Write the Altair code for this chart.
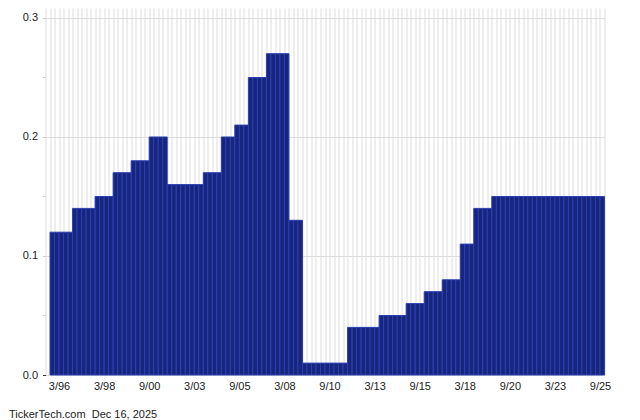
import altair as alt
import pandas as pd

# Dividend per bar (left to right)
values = [
    0.12, 0.12, 0.12, 0.12, 0.12,
    0.14, 0.14, 0.14, 0.14, 0.14,
    0.15, 0.15, 0.15, 0.15,
    0.17, 0.17, 0.17, 0.17,
    0.18, 0.18, 0.18, 0.18,
    0.20, 0.20, 0.20, 0.20,
    0.16, 0.16, 0.16, 0.16, 0.16, 0.16, 0.16, 0.16,
    0.17, 0.17, 0.17, 0.17,
    0.20, 0.20, 0.20,
    0.21, 0.21, 0.21,
    0.25, 0.25, 0.25, 0.25,
    0.27, 0.27, 0.27, 0.27, 0.27,
    0.13, 0.13, 0.13,
    0.01, 0.01, 0.01, 0.01, 0.01, 0.01, 0.01, 0.01, 0.01, 0.01,
    0.04, 0.04, 0.04, 0.04, 0.04, 0.04, 0.04,
    0.05, 0.05, 0.05, 0.05, 0.05, 0.05,
    0.06, 0.06, 0.06, 0.06,
    0.07, 0.07, 0.07, 0.07,
    0.08, 0.08, 0.08, 0.08,
    0.11, 0.11, 0.11,
    0.14, 0.14, 0.14, 0.14,
    0.15, 0.15, 0.15, 0.15, 0.15, 0.15, 0.15, 0.15, 0.15, 0.15,
    0.15, 0.15, 0.15, 0.15, 0.15, 0.15, 0.15, 0.15, 0.15, 0.15,
    0.15, 0.15, 0.15, 0.15, 0.15,
]

tick_labels = ["3/96", "3/98", "9/00", "3/03", "9/05", "3/08", "9/10",
               "3/13", "9/15", "3/18", "9/20", "3/23", "9/25"]
tick_bars = [2, 12, 22, 32, 42, 52, 62, 72, 82, 92, 102, 112, 122]

footer = "TickerTech.com\u00a0 Dec 16, 2025"

n = len(values)
df = pd.DataFrame({"i": list(range(n)), "v": values})

label_js = "[" + ",".join(f"'{t}'" for t in tick_labels) + "]"
bars_js = "[" + ",".join(str(b) for b in tick_bars) + "]"

x_axis = alt.Axis(
    values=list(range(-1, n + 1)),
    grid=True,
    gridColor="#dddddd",
    gridWidth=1,
    ticks=False,
    domain=False,
    labelExpr=f"indexof({bars_js}, datum.value) >= 0 ? {label_js}[indexof({bars_js}, datum.value)] : ''",
    labelOverlap=False,
    labelFont="Liberation Sans",
    labelFontSize=11,
    labelColor="#222222",
    labelPadding=5,
    title=None,
)

y_axis = alt.Axis(
    values=[0, 0.05, 0.1, 0.15, 0.2, 0.25, 0.3],
    grid=True,
    gridColor="#dddddd",
    gridOpacity={"condition": {"test": "round(datum.value*100) % 10 == 0", "value": 1}, "value": 0},
    tickColor={"condition": {"test": "datum.value == 0", "value": "#333333"}, "value": "#cccccc"},
    tickSize=3,
    domain=False,
    labelExpr="round(datum.value*100) % 10 == 0 ? format(datum.value, '.1f') : ''",
    labelFont="Liberation Sans",
    labelFontSize=11,
    labelColor="#222222",
    labelPadding=5,
    title=None,
)

chart = (
    alt.Chart(df)
    .transform_calculate(i2="datum.i + 1")
    .mark_bar(fill="#17257c", stroke="#2a3fb2", strokeWidth=1)
    .encode(
        x=alt.X("i:Q", scale=alt.Scale(domain=[-1, n], nice=False, zero=False), axis=x_axis),
        x2="i2:Q",
        y=alt.Y("v:Q", scale=alt.Scale(domain=[0, 0.3084], nice=False), axis=y_axis),
        y2=alt.datum(0),
    )
    .properties(
        width=559,
        height=367,
        autosize=alt.AutoSizeParams(type="none"),
        padding={"left": 37.5, "top": 0, "right": 20, "bottom": 45},
        title=alt.TitleParams(
            footer,
            orient="bottom",
            anchor="start",
            frame="group",
            dx=-36.5,
            offset=18,
            font="Liberation Sans",
            fontSize=11,
            fontWeight="normal",
            color="#222222",
        ),
    )
    .configure_view(stroke=None)
)

chart.save("out.html", embed_options={"renderer": "svg", "actions": False})
